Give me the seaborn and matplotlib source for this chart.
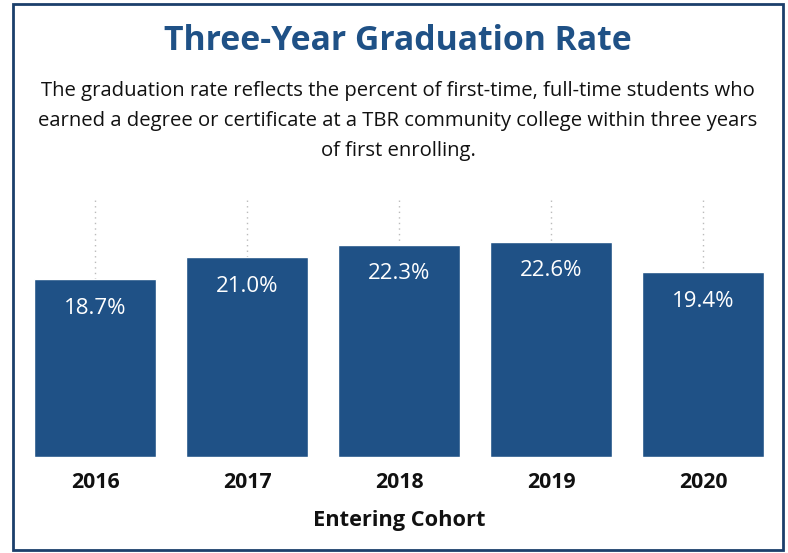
import numpy as np
import pandas as pd
import seaborn as sns
from matplotlib import pyplot as plt
from matplotlib.patches import Rectangle

years = ["2016", "2017", "2018", "2019", "2020"]
rates = [18.7, 21.0, 22.3, 22.6, 19.4]
labels = ["18.7%", "21.0%", "22.3%", "22.6%", "19.4%"]

title = "Three-Year Graduation Rate"
subtitle = ("The graduation rate reflects the percent of first-time, full-time students who\n"
            "earned a degree or certificate at a TBR community college within three years\n"
            "of first enrolling.")

bar_col = "#1F5186"
W, H = 788, 553

sns.set_style("white")
plt.rcParams['font.family'] = ['Open Sans', 'DejaVu Sans']

df = pd.DataFrame({"year": years, "rate": rates})

fig = plt.figure(figsize=(W / 100, H / 100), dpi=100)
ax = fig.add_axes([19 / W, (H - 457) / H, 760 / W, 260 / H])

sns.barplot(ax=ax, data=df, x="year", y="rate", color=bar_col, width=0.8,
            saturation=1, zorder=3)

for i, (v, lab) in enumerate(zip(rates, labels)):
    ax.annotate(lab, (i, v), xytext=(0, -21), textcoords="offset points",
                ha="center", va="center", color="white", fontsize=16, zorder=4)

ax.set_ylim(0, 27.3)
ax.set_xlim(-0.5, 4.5)
ax.set_yticks([])
ax.grid(axis="x", color="#BBBBBB", linestyle=(0, (1, 3)), linewidth=1, zorder=0)
ax.grid(axis="y", visible=False)
for s in ax.spines.values():
    s.set_visible(False)
ax.tick_params(axis="x", length=0, pad=11, labelsize=15.3, labelcolor="#111111")
for t in ax.get_xticklabels():
    t.set_fontweight("bold")
ax.set_xlabel("Entering Cohort", fontsize=15.7, fontweight="bold", labelpad=12,
              color="#111111")
ax.set_ylabel("")

fig.text(398 / W, 1 - 41 / H, title, ha="center", va="center", fontsize=24.3,
         fontweight="bold", color=bar_col)
fig.text(398 / W, 1 - 121 / H, subtitle, ha="center", va="center", fontsize=14.6,
         linespacing=1.65, color="#111111")

fig.patches.append(Rectangle((13 / W, 3 / H), 770 / W, 546 / H, transform=fig.transFigure,
                             fill=False, edgecolor="#1B3F6B", linewidth=2))

fig.savefig("out.png", dpi=100)
